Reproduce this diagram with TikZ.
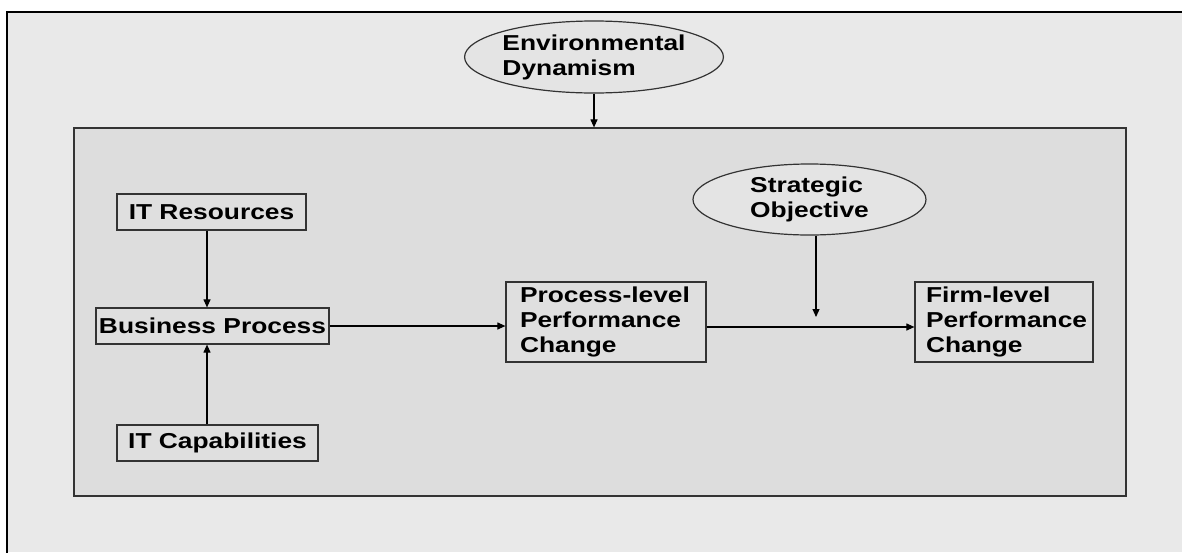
\documentclass[tikz,border=0pt]{standalone}
\usepackage{fontspec}
\setmainfont[FakeStretch=1.22]{Liberation Sans}
\usetikzlibrary{shapes.geometric,arrows.meta}
\definecolor{outerbg}{HTML}{E9E9E9}
\definecolor{innerbg}{HTML}{DDDDDD}
\definecolor{boxfill}{HTML}{DFDFDF}
\definecolor{ellfill}{HTML}{E4E4E4}
\definecolor{edge}{HTML}{333333}
\begin{document}
\begin{tikzpicture}[x=1pt,y=-1pt,
  lbl/.style={font=\fontsize{21.6}{25}\selectfont\bfseries},
  box/.style={lbl,draw=edge,line width=1.2pt,fill=boxfill,rectangle,inner sep=0pt},
  oval/.style={lbl,draw=edge,line width=1.2pt,fill=ellfill,ellipse,inner sep=0pt,align=left},
  arr/.style={draw=black,line width=1.1pt,-{Triangle[length=8pt,width=7pt]}}]
\useasboundingbox (0,0) rectangle (1182,552);
\fill[white] (0,0) rectangle (1182,552);
\fill[outerbg] (7,12) rectangle (1182,552);
\draw[black,line width=2.5pt] (7,553) -- (7,12) -- (1183,12);
\node[draw=edge,line width=1.2pt,fill=innerbg,rectangle,minimum width=1052pt,minimum height=368pt,inner sep=0pt] (frame) at (600,312) {};
\node[oval,minimum width=223pt,minimum height=72pt] (env) at (594,57) {Environmental\\Dynamism};
\node[oval,minimum width=233pt,minimum height=71pt] (so) at (809.5,199.5) {Strategic\\Objective};
\node[box,minimum width=189pt,minimum height=36pt] (itr) at (211.5,212) {IT Resources};
\node[box,minimum width=233pt,minimum height=36pt] (bp) at (212.5,326) {Business Process};
\node[box,minimum width=201pt,minimum height=36pt] (itc) at (217.5,443) {IT Capabilities};
\node[box,minimum width=200pt,minimum height=80pt,text width=172pt,align=left] (pl) at (606,322) {Process-level\\Performance\\Change};
\node[box,minimum width=178pt,minimum height=80pt,text width=156pt,align=left] (fl) at (1004,322) {Firm-level\\Performance\\Change};
\coordinate (a1) at ([xshift=-4.5pt]itr.south);
\coordinate (a2) at ([xshift=-10.5pt]itc.north);
\coordinate (a3) at ([yshift=-5pt]pl.east);
\coordinate (j) at (816,317);
\draw[arr] (env.south) -- (frame.north -| env.south);
\draw[arr] (a1) -- (bp.north -| a1);
\draw[arr] (a2) -- (bp.south -| a2);
\draw[arr] (bp.east) -- (pl.west |- bp.east);
\draw[arr] (a3) -- (fl.west |- a3);
\draw[arr] (so.south -| j) -- (j);
\end{tikzpicture}
\end{document}
